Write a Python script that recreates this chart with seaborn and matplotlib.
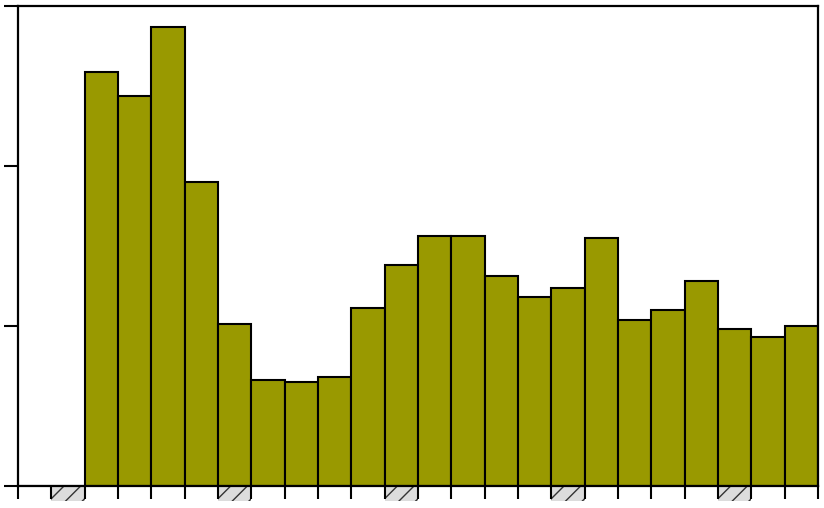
import numpy as np
import pandas as pd
import matplotlib
matplotlib.use("Agg")
import matplotlib.pyplot as plt
import seaborn as sns

# bar heights (y axis runs 0..3, no labels shown)
values = [0, 0, 2.59, 2.44, 2.87, 1.90, 1.01, 0.66, 0.65, 0.68, 1.11, 1.38,
          1.56, 1.56, 1.31, 1.18, 1.24, 1.55, 1.04, 1.10, 1.28, 0.98, 0.93, 1.00]
categories = [str(i) for i in range(len(values))]
# slots flagged with the hatched box under the axis
marked = [1, 6, 11, 16, 21]
y_ticks = [0, 1, 2, 3]

sns.set_theme(style="ticks")
plt.rcParams["hatch.linewidth"] = 1.0

df = pd.DataFrame({"slot": categories, "value": values})

fig = plt.figure(figsize=(8.24, 5.08), dpi=100)
ax = fig.add_axes([18 / 824, 22 / 508, 800 / 824, 480 / 508])

sns.barplot(data=df, x="slot", y="value", order=categories, color="#999900",
            saturation=1, width=1, edgecolor="black", linewidth=1.5, ax=ax)

# hatched markers hanging just below the baseline
ax.bar(marked, [0.094] * len(marked), bottom=-0.094, width=1,
       color="#dcdcdc", edgecolor="#333333", linewidth=0, hatch="//",
       clip_on=False, zorder=0)

ax.set_xlim(-0.5, len(values) - 0.5)
ax.set_ylim(0, 3)
ax.set_xticks(np.arange(-0.5, len(values), 1))
ax.set_yticks(y_ticks)
ax.set_xticklabels([])
ax.set_yticklabels([])
ax.set_xlabel("")
ax.set_ylabel("")
ax.tick_params(axis="x", direction="out", length=9, width=1.5, color="black")
ax.tick_params(axis="y", direction="out", length=10, width=1.5, color="black")
for side in ["left", "right", "top", "bottom"]:
    ax.spines[side].set_visible(True)
    ax.spines[side].set_color("black")
    ax.spines[side].set_linewidth(1.6)

fig.savefig("out.png", dpi=100, facecolor="white")
plt.close(fig)
